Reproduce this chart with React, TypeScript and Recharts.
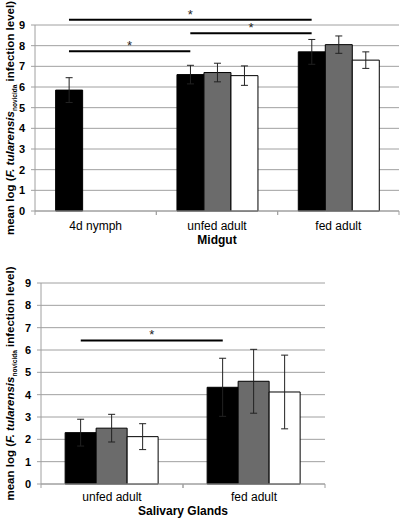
import React from 'react';
import {
  BarChart,
  Bar,
  XAxis,
  YAxis,
  CartesianGrid,
  ErrorBar,
  ReferenceLine
} from 'recharts';

// Midgut panel
const midgutStages = ['4d nymph', 'unfed adult', 'fed adult'];
const midgutBlack = [5.85, 6.6, 7.7];
const midgutBlackErr = [0.6, 0.45, 0.6];
const midgutGray = [null, 6.7, 8.05];
const midgutGrayErr = [null, 0.45, 0.42];
const midgutWhite = [null, 6.55, 7.3];
const midgutWhiteErr = [null, 0.47, 0.4];

// Salivary glands panel
const glandStages = ['unfed adult', 'fed adult'];
const glandBlack = [2.3, 4.33];
const glandBlackErr = [0.6, 1.3];
const glandGray = [2.5, 4.6];
const glandGrayErr = [0.62, 1.43];
const glandWhite = [2.12, 4.12];
const glandWhiteErr = [0.58, 1.65];

const yTicks = [0, 1, 2, 3, 4, 5, 6, 7, 8, 9];

// significance brackets between the black bars: [from, to, height]
const midgutSig: [string, string, number][] = [
  ['4d nymph', 'fed adult', 9.25],
  ['unfed adult', 'fed adult', 8.6],
  ['4d nymph', 'unfed adult', 7.73]
];
const glandSig: [string, string, number][] = [['unfed adult', 'fed adult', 6.43]];

const FONT = '"Liberation Sans", Arial, sans-serif';
const GRID = '#a0a0a0';
const GAP = 0.17;

const buildRows = (stages: string[], a: any[], ae: any[], b: any[], be: any[], c: any[], ce: any[]) =>
  stages.map((stage, i) => ({
    stage,
    a: a[i],
    aErr: ae[i],
    b: b[i],
    bErr: be[i],
    c: c[i],
    cErr: ce[i]
  }));

const midgutRows = buildRows(midgutStages, midgutBlack, midgutBlackErr, midgutGray, midgutGrayErr, midgutWhite, midgutWhiteErr);
const glandRows = buildRows(glandStages, glandBlack, glandBlackErr, glandGray, glandGrayErr, glandWhite, glandWhiteErr);

const YLabel = ({ viewBox }: any) => {
  const cy = viewBox.y + viewBox.height / 2;
  const x = 14;
  return (
    <text
      x={x}
      y={cy}
      transform={`rotate(-90, ${x}, ${cy})`}
      textAnchor="middle"
      fontFamily={FONT}
      fontWeight="bold"
      fontSize={11.5}
      fill="#000"
    >
      mean log (<tspan fontStyle="italic">F. tularensis</tspan>
      <tspan fontSize={6.5} dy={3}>novicida</tspan>
      <tspan dy={-3}> infection level)</tspan>
    </text>
  );
};

const makeTick = (halfBand: number, textDy: number) => (props: any) => {
  const { x, y, payload } = props;
  return (
    <g>
      <line x1={x - halfBand} y1={y} x2={x - halfBand} y2={y + 4} stroke={GRID} />
      <line x1={x + halfBand} y1={y} x2={x + halfBand} y2={y + 4} stroke={GRID} />
      <text x={x} y={y + textDy} textAnchor="middle" fontFamily={FONT} fontSize={12} fill="#000">
        {payload.value}
      </text>
    </g>
  );
};

const xTitle = (title: string, dy: number) => ({ viewBox }: any) => (
  <text
    x={viewBox.x + viewBox.width / 2}
    y={viewBox.y + dy}
    textAnchor="middle"
    fontFamily={FONT}
    fontWeight="bold"
    fontSize={12}
    fill="#000"
  >
    {title}
  </text>
);

// bracket drawn over the black (first) bar of each group
const sigShape = (shift: number) => (props: any) => {
  const { x1, x2, y1 } = props;
  const a = x1 + shift;
  const b = x2 + shift;
  return (
    <g>
      <line x1={a} y1={y1} x2={b} y2={y1} stroke="#000" strokeWidth={2} />
      <text x={(a + b) / 2} y={y1 - 1} textAnchor="middle" fontFamily={FONT} fontSize={13} fill="#222">
        *
      </text>
    </g>
  );
};

const Panel = ({ rows, sig, width, height, right, axisWidth, xHeight, tickDy, title, titleDy }: any) => {
  const band = (width - right - axisWidth) / rows.length;
  const barW = (band * (1 - 2 * GAP)) / 3;
  return (
    <BarChart
      width={width}
      height={height}
      data={rows}
      margin={{ top: 25, right, left: 0, bottom: 0 }}
      barCategoryGap={`${GAP * 100}%`}
      barGap={0}
    >
      <CartesianGrid vertical={false} stroke={GRID} />
      <XAxis
        dataKey="stage"
        height={xHeight}
        stroke={GRID}
        tickLine={false}
        tickSize={0}
        tickMargin={0}
        tick={makeTick(band / 2, tickDy)}
        interval={0}
        label={{ content: xTitle(title, titleDy) }}
      />
      <YAxis
        width={axisWidth}
        domain={[0, 9]}
        ticks={yTicks}
        interval={0}
        stroke={GRID}
        tickSize={4}
        tickMargin={6}
        tick={{ fill: '#000', fontFamily: FONT, fontWeight: 'bold', fontSize: 11 }}
        label={{ content: YLabel }}
      />
      <Bar dataKey="a" fill="#000" stroke="#000" isAnimationActive={false}>
        <ErrorBar dataKey="aErr" width={3.5} stroke="#222" strokeWidth={1} />
      </Bar>
      <Bar dataKey="b" fill="#6b6b6b" stroke="#000" isAnimationActive={false}>
        <ErrorBar dataKey="bErr" width={3.5} stroke="#222" strokeWidth={1} />
      </Bar>
      <Bar dataKey="c" fill="#fff" stroke="#000" isAnimationActive={false}>
        <ErrorBar dataKey="cErr" width={3.5} stroke="#222" strokeWidth={1} />
      </Bar>
      {sig.map((s: [string, string, number], i: number) => (
        <ReferenceLine
          key={i}
          ifOverflow="visible"
          segment={[{ x: s[0], y: s[2] }, { x: s[1], y: s[2] }]}
          shape={sigShape(-barW)}
        />
      ))}
    </BarChart>
  );
};

const App: React.FC = () => {
  return (
    <div style={{ position: 'absolute', left: 0, top: 0, width: 400, height: 520, background: '#fff' }}>
      <Panel
        rows={midgutRows}
        sig={midgutSig}
        width={400}
        height={250}
        right={1}
        axisWidth={35}
        xHeight={39}
        tickDy={19}
        title="Midgut"
        titleDy={33}
      />
      <div style={{ position: 'absolute', left: 0, top: 258 }}>
        <Panel
          rows={glandRows}
          sig={glandSig}
          width={400}
          height={262}
          right={75}
          axisWidth={41}
          xHeight={36}
          tickDy={17}
          title="Salivary Glands"
          titleDy={31}
        />
      </div>
    </div>
  );
};

export default App;
